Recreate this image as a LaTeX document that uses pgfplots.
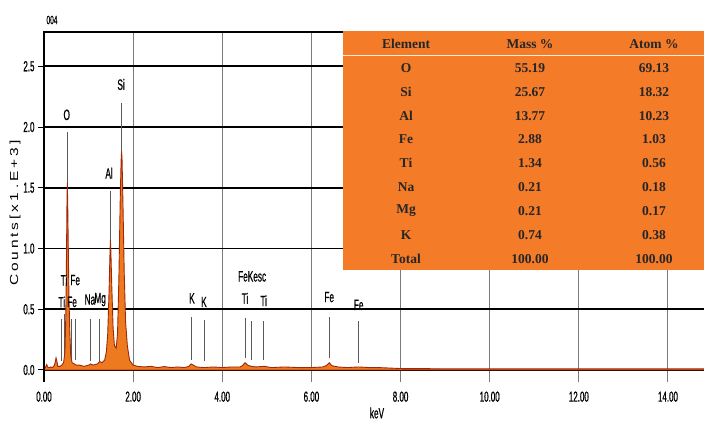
\documentclass[border=0pt]{standalone}
\usepackage{pgfplots}
\pgfplotsset{compat=1.18}
\usepackage{fontspec}
\setmainfont{Liberation Sans}
\newfontfamily\narrow[FakeStretch=0.55,FakeBold=0.6]{Liberation Sans}
\newfontfamily\tabfont{Liberation Serif}
\definecolor{taborange}{RGB}{244,123,40}
\definecolor{specfill}{RGB}{238,122,32}
\definecolor{specdark}{RGB}{160,40,8}
\definecolor{markgray}{RGB}{90,90,90}
\newcommand{\tk}{\fontsize{14.5}{14.5}\selectfont\narrow}
\newcommand{\lb}{\fontsize{15}{15}\selectfont\narrow}
\newcommand{\tf}{\fontsize{13.5}{13.5}\selectfont\tabfont\bfseries}
\begin{document}
\begin{tikzpicture}
\path[use as bounding box] (-44pt,-41pt) rectangle (660pt,382pt);
\begin{axis}[
  scale only axis, width=660pt, height=350pt,
  at={(0pt,0pt)}, anchor=south west,
  xmin=0, xmax=14.808, ymin=-0.0988, ymax=2.782,
  axis line style={draw=none},
  xtick={0,2,4,6,8,10,12,14},
  ytick={0,0.5,1,1.5,2,2.5},
  xmajorgrids, ymajorgrids,
  x grid style={draw=markgray!80, line width=1pt},
  y grid style={draw=black, line width=1.6pt},
  tick align=outside, major tick length=6pt,
  xtick style={draw=none},
  ytick style={draw=black, line width=1pt},
  /pgf/number format/assume math mode=true,
  xticklabel style={font=\tk, /pgf/number format/.cd, fixed, fixed zerofill, precision=2},
  yticklabel style={font=\tk, /pgf/number format/.cd, fixed, fixed zerofill, precision=1},
  clip=false,
]
% marker lines (drawn beneath the spectrum)
\addplot[markgray, line width=1pt] coordinates {(0.523,0.05) (0.523,1.96)};
\addplot[markgray, line width=1pt] coordinates {(1.74,0.05) (1.74,2.20)};
\addplot[markgray, line width=1pt] coordinates {(1.49,0.05) (1.49,1.47)};
\addplot[markgray, line width=1pt] coordinates {(0.40,0.07) (0.40,0.42)};
\addplot[markgray, line width=1pt] coordinates {(0.45,0.09) (0.45,0.46)};
\addplot[markgray, line width=1pt] coordinates {(0.62,0.08) (0.62,0.42)};
\addplot[markgray, line width=1pt] coordinates {(0.71,0.08) (0.71,0.42)};
\addplot[markgray, line width=1pt] coordinates {(1.04,0.07) (1.04,0.42)};
\addplot[markgray, line width=1pt] coordinates {(1.25,0.07) (1.25,0.42)};
\addplot[markgray, line width=1pt] coordinates {(3.31,0.08) (3.31,0.44)};
\addplot[markgray, line width=1pt] coordinates {(3.59,0.07) (3.59,0.41)};
\addplot[markgray, line width=1pt] coordinates {(4.51,0.10) (4.51,0.43)};
\addplot[markgray, line width=1pt] coordinates {(4.66,0.08) (4.66,0.40)};
\addplot[markgray, line width=1pt] coordinates {(4.93,0.08) (4.93,0.40)};
\addplot[markgray, line width=1pt] coordinates {(6.40,0.10) (6.40,0.44)};
\addplot[markgray, line width=1pt] coordinates {(7.06,0.06) (7.06,0.40)};
% spectrum
\addplot[fill=specfill, draw=specdark, line width=0.9pt] coordinates {
(0.00,0.00) (0.03,0.02) (0.06,0.045) (0.09,0.02) (0.12,0.02) (0.15,0.025) (0.19,0.02)
(0.22,0.03) (0.25,0.06) (0.27,0.10) (0.29,0.07) (0.31,0.03) (0.36,0.03) (0.40,0.04)
(0.44,0.06) (0.47,0.15) (0.49,0.45) (0.505,0.95) (0.515,1.35) (0.523,1.54) (0.532,1.38)
(0.545,1.00) (0.56,0.60) (0.58,0.30) (0.60,0.12) (0.63,0.06) (0.68,0.05) (0.72,0.04)
(0.80,0.04) (0.90,0.03) (1.00,0.04) (1.05,0.05) (1.10,0.04) (1.20,0.05) (1.25,0.07)
(1.30,0.06) (1.36,0.08) (1.40,0.15) (1.43,0.30) (1.46,0.65) (1.48,0.95) (1.49,1.07)
(1.50,0.98) (1.52,0.70) (1.55,0.35) (1.58,0.20) (1.62,0.18) (1.65,0.30) (1.68,0.75)
(1.71,1.40) (1.73,1.72) (1.74,1.80) (1.75,1.75) (1.77,1.40) (1.80,0.80) (1.83,0.40)
(1.87,0.20) (1.92,0.08) (2.00,0.04) (2.10,0.03) (2.25,0.025) (2.40,0.03) (2.55,0.02)
(2.70,0.028) (2.85,0.02) (3.00,0.025) (3.15,0.02) (3.25,0.03) (3.30,0.05) (3.35,0.04)
(3.42,0.025) (3.60,0.02) (3.80,0.025) (4.00,0.02) (4.20,0.025) (4.40,0.025) (4.45,0.035)
(4.51,0.06) (4.57,0.04) (4.65,0.03) (4.75,0.025) (4.95,0.03) (5.10,0.02) (5.40,0.025)
(5.70,0.02) (6.00,0.02) (6.25,0.025) (6.33,0.035) (6.40,0.06) (6.46,0.035) (6.60,0.025)
(6.80,0.02) (7.06,0.025) (7.30,0.02) (7.50,0.02) (8.00,0.012) (9.00,0.01) (11.00,0.01)
(14.808,0.01)
} \closedcycle;
% axis frame lines
\addplot[black, line width=1.6pt] coordinates {(0,-0.0988) (0,2.782) (14.808,2.782)};
% element labels
\node[font=\lb] at (axis cs:0.51,2.10) {O};
\node[font=\lb] at (axis cs:1.73,2.35) {Si};
\node[font=\lb] at (axis cs:1.46,1.62) {Al};
\node[font=\lb] at (axis cs:0.45,0.74) {Ti};
\node[font=\lb] at (axis cs:0.70,0.74) {Fe};
\node[font=\lb] at (axis cs:0.40,0.56) {Ti};
\node[font=\lb] at (axis cs:0.63,0.56) {Fe};
\node[font=\lb] at (axis cs:1.03,0.58) {Na};
\node[font=\lb] at (axis cs:1.26,0.58) {Mg};
\node[font=\lb] at (axis cs:3.32,0.59) {K};
\node[font=\lb] at (axis cs:3.59,0.56) {K};
\node[font=\lb] at (axis cs:4.67,0.77) {FeKesc};
\node[font=\lb] at (axis cs:4.51,0.59) {Ti};
\node[font=\lb] at (axis cs:4.93,0.57) {Ti};
\node[font=\lb] at (axis cs:6.40,0.60) {Fe};
\node[font=\lb] at (axis cs:7.06,0.535) {Fe};
\end{axis}
% small texts around the axis
\node[font=\fontsize{12}{12}\selectfont\narrow] at (8pt,362pt) {004};
\node[font=\lb] at (333pt,-31pt) {keV};
\node[rotate=90, font=\fontsize{15.5}{15.5}\selectfont] at (-29pt,169pt)
  {\scalebox{1}[0.75]{C\kern2.8pt o\kern2.8pt u\kern2.8pt n\kern2.8pt t\kern2.8pt s\kern2.8pt [\kern2.8pt x\kern2.8pt 1\kern5pt .\kern2.8pt E\kern2.8pt +\kern2.8pt 3\kern2.8pt ]}};
% composition table
\fill[taborange] (299pt,112pt) rectangle (660pt,351pt);
\draw[white!85!taborange, line width=0.8pt] (299pt,327pt) -- (660pt,327pt);
\foreach \y/\a/\b/\c in {338/Element/Mass \%/Atom \%, 314/O/55.19/69.13, 290/Si/25.67/18.32,
  266/Al/13.77/10.23, 243/Fe/2.88/1.03, 219/Ti/1.34/0.56, 195/Na/0.21/0.18,
  171/Mg/0.21/0.17, 147/K/0.74/0.38, 123/Total/100.00/100.00}{
  \node[font=\tf, text=black!85] at (362pt,\y pt) {\a};
  \node[font=\tf, text=black!85] at (486pt,\y pt) {\b};
  \node[font=\tf, text=black!85] at (610pt,\y pt) {\c};
}
\end{tikzpicture}
\end{document}
